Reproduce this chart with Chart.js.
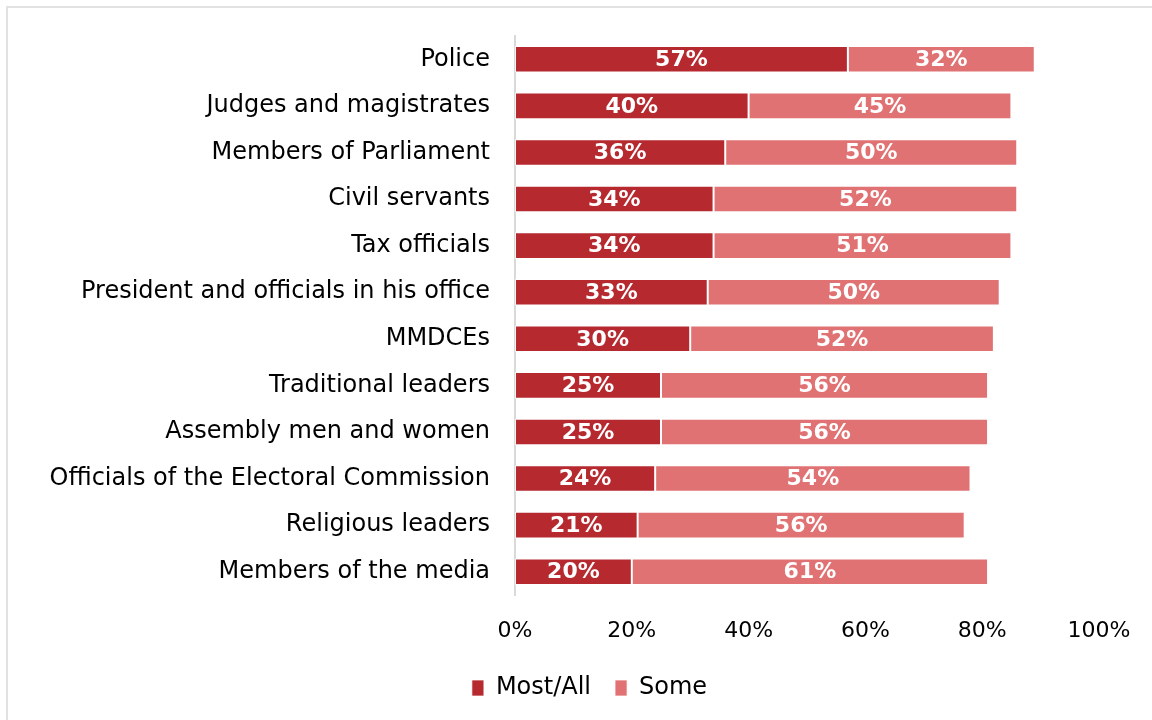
<!DOCTYPE html>
<html>
<head>
<meta charset="utf-8">
<script src="https://cdn.jsdelivr.net/npm/chart.js@4"></script>
<style>
  html, body { margin: 0; padding: 0; background: #fff; }
  #wrap { position: relative; width: 1152px; height: 720px; overflow: hidden; }
  #frame { position: absolute; left: 6px; top: 6px; width: 1200px; height: 800px;
           border-left: 2px solid #e2e2e2; border-top: 2px solid #e2e2e2; }
  canvas { position: absolute; left: 0; top: 0; }
</style>
</head>
<body>
<div id="wrap">
  <div id="frame"></div>
  <canvas id="chart" width="1152" height="720"></canvas>
</div>
<script>
const categories = [
  "Police",
  "Judges and magistrates",
  "Members of Parliament",
  "Civil servants",
  "Tax officials",
  "President and officials in his office",
  "MMDCEs",
  "Traditional leaders",
  "Assembly men and women",
  "Officials of the Electoral Commission",
  "Religious leaders",
  "Members of the media",
];
const mostAll = [57, 40, 36, 34, 34, 33, 30, 25, 25, 24, 21, 20];
const some = [32, 45, 50, 52, 51, 50, 52, 56, 56, 54, 56, 61];

const FONT = "'DejaVu Sans', sans-serif";

// white percentage labels in the middle of each segment
const barLabels = {
  id: "barLabels",
  afterDatasetsDraw(chart) {
    const ctx = chart.ctx;
    ctx.save();
    ctx.font = "bold 22px " + FONT;
    ctx.fillStyle = "#ffffff";
    ctx.textAlign = "center";
    ctx.textBaseline = "middle";
    chart.data.datasets.forEach((ds, i) => {
      chart.getDatasetMeta(i).data.forEach((bar, j) => {
        const { x, base, y } = bar.getProps(["x", "base", "y"], true);
        ctx.fillText(ds.data[j] + "%", (x + base) / 2, y + 1);
      });
    });
    ctx.restore();
  },
};

// the legend sits a bit right of the canvas centre in the original
const legendShift = {
  id: "legendShift",
  afterLayout(chart) {
    if (chart.legend) {
      chart.legend.left += 40;
      chart.legend.right += 40;
    }
  },
};

new Chart(document.getElementById("chart"), {
  type: "bar",
  data: {
    labels: categories,
    datasets: [
      {
        label: "Most/All",
        data: mostAll,
        backgroundColor: "#b5292f",
        borderColor: "rgba(255,255,255,0.7)",
        borderWidth: 1,
        borderSkipped: false,
      },
      {
        label: "Some",
        data: some,
        backgroundColor: "#e07274",
        borderColor: "rgba(255,255,255,0.7)",
        borderWidth: 1,
        borderSkipped: false,
      },
    ],
  },
  options: {
    indexAxis: "y",
    responsive: false,
    animation: false,
    layout: { padding: { top: 36, right: 53, bottom: 10, left: 0 } },
    categoryPercentage: 0.57,
    barPercentage: 1,
    scales: {
      x: {
        stacked: true,
        min: 0,
        max: 100,
        grid: { display: false },
        border: { display: false },
        ticks: {
          stepSize: 20,
          padding: 15,
          color: "#000",
          font: { family: FONT, size: 22 },
          callback: (v) => v + "%",
        },
        afterFit(scale) { scale.height = 57; },
      },
      y: {
        stacked: true,
        grid: { display: false },
        border: { display: true, color: "#d9d9d9", width: 2 },
        ticks: {
          padding: 17,
          color: "#000",
          font: { family: FONT, size: 24 },
        },
        afterFit(scale) { scale.width = 515; },
      },
    },
    plugins: {
      legend: {
        position: "bottom",
        labels: {
          boxWidth: 12,
          boxHeight: 16,
          padding: 24,
          color: "#000",
          font: { family: FONT, size: 24 },
        },
      },
      tooltip: { enabled: false },
    },
  },
  plugins: [barLabels, legendShift],
});
</script>
</body>
</html>
